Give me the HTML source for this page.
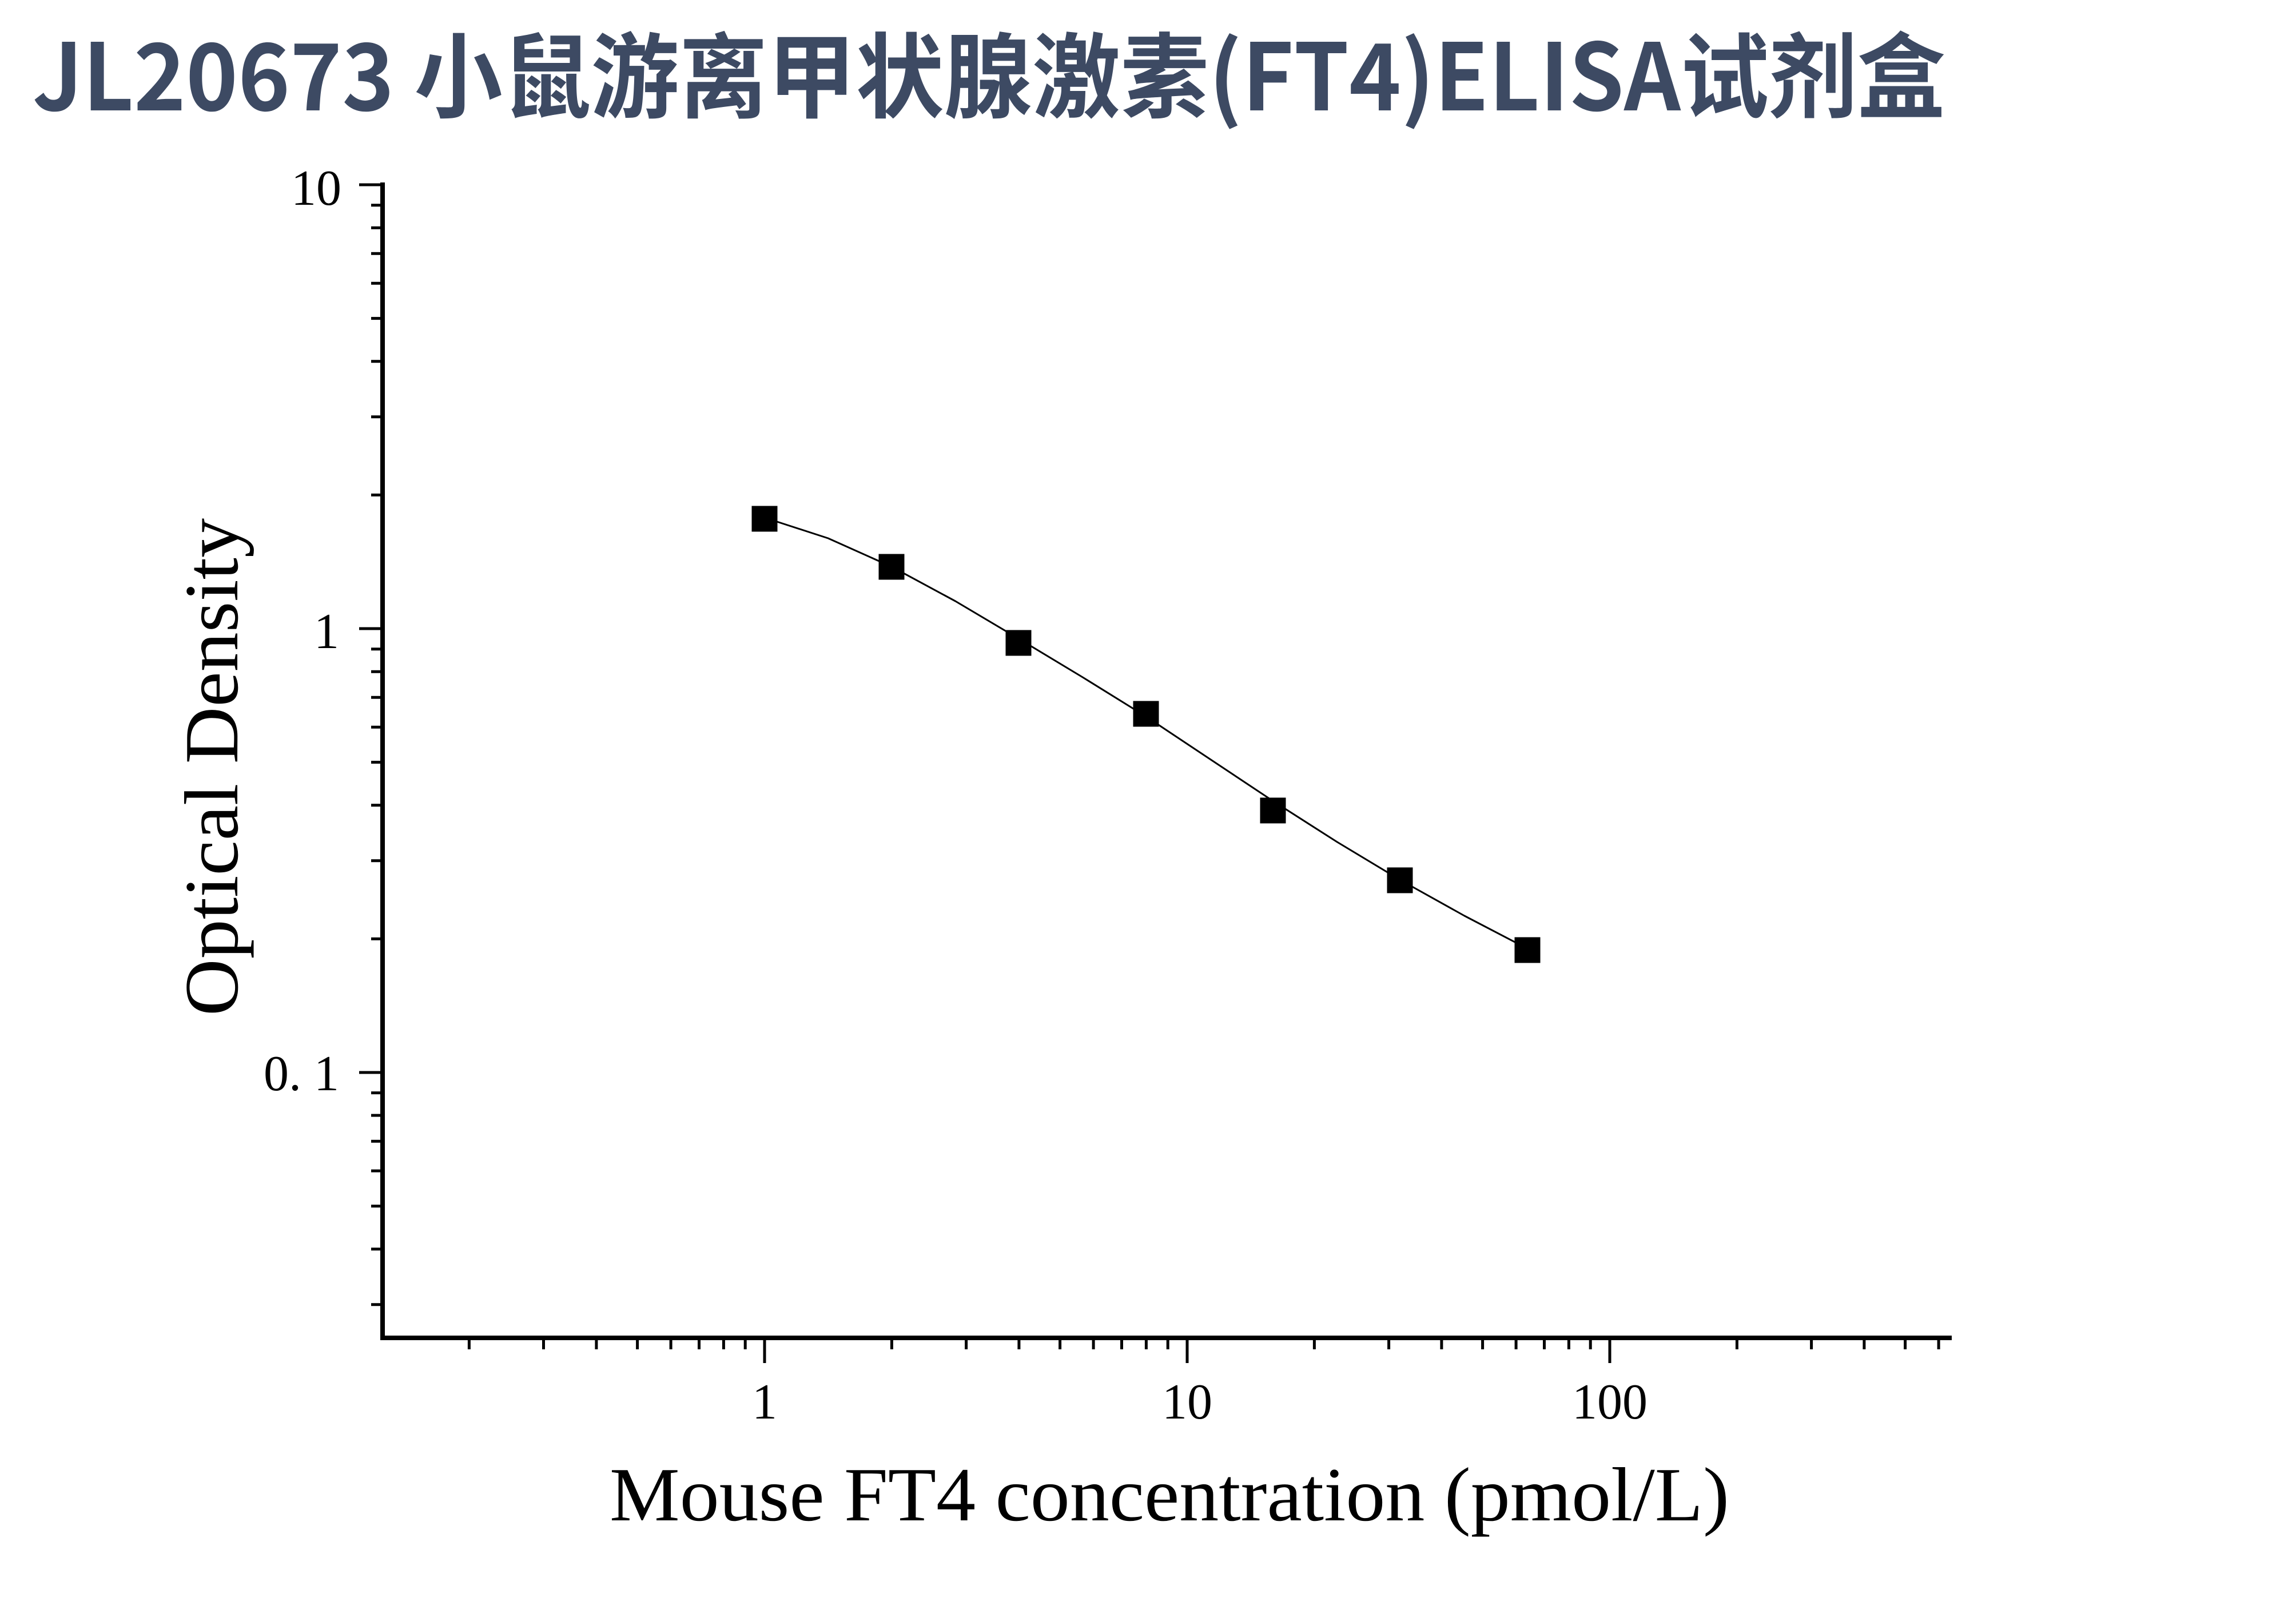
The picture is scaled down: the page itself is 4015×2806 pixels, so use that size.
<!DOCTYPE html>
<html><head><meta charset="utf-8"><style>html,body{margin:0;padding:0;background:#fff}svg{display:block}</style></head>
<body>
<svg width="4015" height="2806" viewBox="0 0 4015 2806" xmlns="http://www.w3.org/2000/svg">
<rect width="4015" height="2806" fill="#fff"/>
<text x="57" y="193" font-family="'Noto Sans CJK SC','Liberation Sans',sans-serif" font-weight="bold" font-size="162" fill="#3d4a63" textLength="3345" lengthAdjust="spacingAndGlyphs">JL20673 小鼠游离甲状腺激素(FT4)ELISA试剂盒</text>
<g stroke="#000" fill="none">
<path d="M669 319 V2339 H3413" stroke-width="8"/>
<path stroke-width="5" d="M628 323H669M628 1099H669M628 1875H669
M649 865.4H669M649 728.8H669M649 631.8H669M649 556.6H669M649 495.3H669M649 443.3H669M649 398.3H669M649 358.7H669
M649 1641.4H669M649 1504.8H669M649 1407.8H669M649 1332.6H669M649 1271.3H669M649 1219.3H669M649 1174.3H669M649 1134.7H669
M649 1910.6H669M649 1950H669M649 1995.2H669M649 2047H669M649 2108.6H669M649 2183.8H669M649 2280.8H669"/>
<path stroke-width="5" d="M1337 2339V2383M2076 2339V2383M2815 2339V2383
M820.4 2339V2359M950.5 2339V2359M1042.9 2339V2359M1114.6 2339V2359M1173.1 2339V2359M1222.5 2339V2359M1265.4 2339V2359M1303.2 2339V2359
M1559.4 2339V2359M1689.6 2339V2359M1781.9 2339V2359M1853.6 2339V2359M1912.1 2339V2359M1961.5 2339V2359M2004.4 2339V2359M2042.2 2339V2359
M2298.4 2339V2359M2428.6 2339V2359M2520.9 2339V2359M2592.6 2339V2359M2651.1 2339V2359M2700.5 2339V2359M2743.4 2339V2359M2781.2 2339V2359
M3037.4 2339V2359M3167.6 2339V2359M3259.9 2339V2359M3331.6 2339V2359M3390.1 2339V2359"/>
<polyline stroke-width="3" stroke-linejoin="round" points="1337,905 1448,941 1559.5,991 1670.7,1051 1782,1117 1893.2,1184 2004.5,1253 2115.7,1327 2227,1401 2338.2,1472 2449.5,1539 2560.7,1601 2672,1659"/>
</g>
<g fill="#000">
<rect x="1314.5" y="884.5" width="45" height="45"/>
<rect x="1536.5" y="968.5" width="45" height="45"/>
<rect x="1758.5" y="1101.5" width="45" height="45"/>
<rect x="1981.5" y="1225.5" width="45" height="45"/>
<rect x="2203.5" y="1394.5" width="45" height="45"/>
<rect x="2425.5" y="1516.5" width="45" height="45"/>
<rect x="2648.5" y="1638.5" width="45" height="45"/>
</g>
<g font-family="'Liberation Serif',serif" font-size="88" fill="#000">
<text x="597" y="358" text-anchor="end">10</text>
<text x="593" y="1133" text-anchor="end">1</text>
<text x="593" y="1906" text-anchor="end">0. 1</text>
<text x="1337" y="2480" text-anchor="middle">1</text>
<text x="2076" y="2480" text-anchor="middle">10</text>
<text x="2815" y="2480" text-anchor="middle">100</text>
</g>
<text x="1066" y="2658" font-family="'Liberation Serif',serif" font-size="134" fill="#000" textLength="1958" lengthAdjust="spacingAndGlyphs">Mouse FT4 concentration (pmol/L)</text>
<text transform="translate(415,1341) rotate(-90)" text-anchor="middle" font-family="'Liberation Serif',serif" font-size="134" fill="#000" textLength="870" lengthAdjust="spacingAndGlyphs">Optical Density</text>
</svg>
</body></html>
